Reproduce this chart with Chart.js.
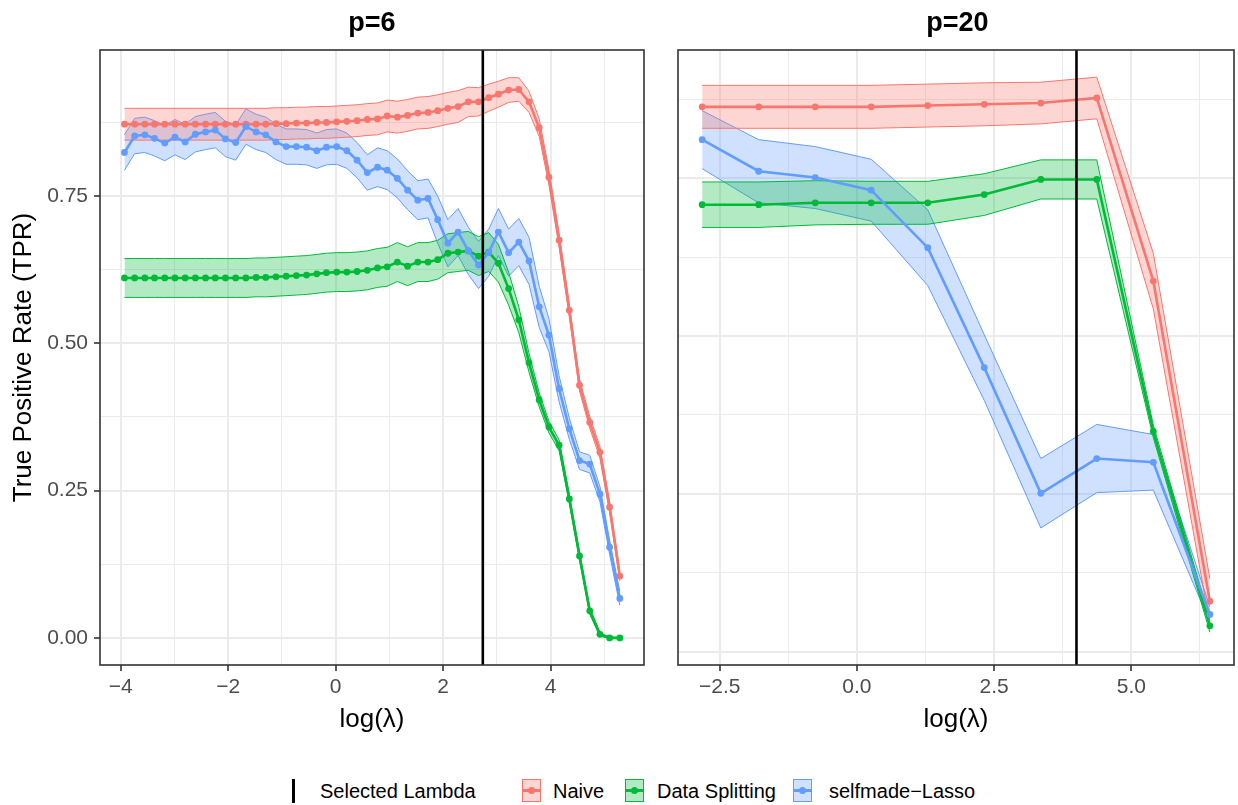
<!DOCTYPE html>
<html>
<head>
<meta charset="utf-8">
<script src="https://cdn.jsdelivr.net/npm/chart.js@4.4.0/dist/chart.umd.min.js"></script>
<style>
    body { margin: 0; background: #fff; width: 1238px; height: 805px; position: relative; overflow: hidden;
           font-family: "Liberation Sans", Arial, sans-serif; }
    canvas { position: absolute; top: 0; }
    .facet { position: absolute; top: 7px; font-weight: bold; font-size: 27px; text-align: center; color: #000; }
    .legend { position: absolute; top: 779px; height: 24px; line-height: 24px; font-size: 20px; color: #000; white-space: nowrap; }
    .key { position: absolute; top: 779px; width: 17px; height: 21px; border: 1.5px solid; }
    .key .ln { position: absolute; left: 0; right: 0; top: 9px; height: 3px; }
    .key .pt { position: absolute; left: 5px; top: 7px; width: 7px; height: 7px; border-radius: 50%; }
</style>
</head>
<body>
<canvas id="chartP6" width="650" height="745" style="left:0"></canvas>
<canvas id="chartP20" width="588" height="745" style="left:650px"></canvas>
<div class="facet" style="left:100px;width:544px">p=6</div>
<div class="facet" style="left:678px;width:559px">p=20</div>
<div id="legend"></div>

<script>
// ---- data: p = 6 ----
const lambdaP6 = [-3.93, -3.74, -3.55, -3.37, -3.18, -2.99, -2.80, -2.61, -2.42, -2.24,
    -2.05, -1.86, -1.67, -1.48, -1.30, -1.11, -0.92, -0.73, -0.54, -0.35,
    -0.17, 0.02, 0.21, 0.40, 0.59, 0.78, 0.96, 1.15, 1.34, 1.53,
    1.72, 1.90, 2.09, 2.28, 2.47, 2.66, 2.85, 3.03, 3.22, 3.41,
    3.60, 3.79, 3.97, 4.16, 4.35, 4.54, 4.73, 4.92, 5.10, 5.29];
const naiveP6 = [0.872, 0.872, 0.872, 0.872, 0.872, 0.872, 0.872, 0.872, 0.872, 0.872,
    0.872, 0.872, 0.872, 0.872, 0.872, 0.873, 0.873, 0.874, 0.874, 0.875,
    0.875, 0.876, 0.877, 0.878, 0.880, 0.881, 0.886, 0.884, 0.887, 0.891,
    0.892, 0.895, 0.899, 0.902, 0.910, 0.910, 0.917, 0.923, 0.930, 0.931,
    0.910, 0.866, 0.782, 0.675, 0.556, 0.429, 0.366, 0.315, 0.222, 0.105];
const naiveP6Se = [0.027, 0.027, 0.027, 0.027, 0.027, 0.027, 0.027, 0.027, 0.027, 0.027,
    0.027, 0.027, 0.027, 0.027, 0.027, 0.027, 0.027, 0.027, 0.027, 0.027,
    0.027, 0.027, 0.027, 0.027, 0.027, 0.027, 0.027, 0.027, 0.027, 0.027,
    0.027, 0.027, 0.027, 0.027, 0.025, 0.024, 0.023, 0.022, 0.021, 0.020,
    0.018, 0.015, 0.013, 0.012, 0.011, 0.010, 0.010, 0.010, 0.009, 0.008];
const splitP6 = [0.611, 0.611, 0.611, 0.611, 0.611, 0.611, 0.611, 0.611, 0.611, 0.611,
    0.611, 0.611, 0.611, 0.612, 0.612, 0.613, 0.614, 0.615, 0.616, 0.618,
    0.620, 0.621, 0.621, 0.622, 0.624, 0.628, 0.630, 0.638, 0.631, 0.638,
    0.638, 0.642, 0.653, 0.655, 0.657, 0.648, 0.655, 0.636, 0.593, 0.540,
    0.467, 0.404, 0.358, 0.327, 0.236, 0.139, 0.046, 0.006, 0.000, 0.000];
const splitP6Se = [0.033, 0.033, 0.033, 0.033, 0.033, 0.033, 0.033, 0.033, 0.033, 0.033,
    0.033, 0.033, 0.033, 0.033, 0.033, 0.033, 0.033, 0.033, 0.033, 0.033,
    0.033, 0.033, 0.033, 0.033, 0.033, 0.033, 0.033, 0.033, 0.033, 0.033,
    0.033, 0.033, 0.033, 0.033, 0.033, 0.033, 0.033, 0.032, 0.028, 0.022,
    0.016, 0.012, 0.010, 0.009, 0.008, 0.007, 0.006, 0.003, 0.001, 0.001];
const lassoP6 = [0.824, 0.852, 0.854, 0.848, 0.840, 0.850, 0.842, 0.855, 0.859, 0.862,
    0.847, 0.841, 0.868, 0.859, 0.854, 0.842, 0.834, 0.834, 0.833, 0.827,
    0.833, 0.834, 0.827, 0.811, 0.790, 0.799, 0.794, 0.780, 0.760, 0.743,
    0.746, 0.710, 0.670, 0.689, 0.657, 0.633, 0.654, 0.689, 0.654, 0.672,
    0.640, 0.562, 0.514, 0.423, 0.355, 0.301, 0.295, 0.244, 0.154, 0.067];
const lassoP6Se = [0.030, 0.030, 0.030, 0.030, 0.030, 0.030, 0.030, 0.030, 0.030, 0.030,
    0.030, 0.030, 0.030, 0.030, 0.030, 0.030, 0.030, 0.030, 0.030, 0.030,
    0.030, 0.030, 0.030, 0.030, 0.030, 0.033, 0.033, 0.033, 0.033, 0.033,
    0.033, 0.040, 0.040, 0.040, 0.040, 0.040, 0.040, 0.040, 0.040, 0.040,
    0.040, 0.035, 0.028, 0.022, 0.018, 0.015, 0.015, 0.013, 0.012, 0.012];
const selectedP6 = 2.74;

// ---- data: p = 20 ----
const lambdaP20 = [-2.82, -1.79, -0.76, 0.26, 1.29, 2.32, 3.35, 4.37, 5.40, 6.43];
const naiveP20 = [0.863, 0.863, 0.863, 0.863, 0.865, 0.867, 0.869, 0.877, 0.587, 0.080];
const naiveP20Se = [0.034, 0.034, 0.034, 0.034, 0.034, 0.034, 0.033, 0.033, 0.044, 0.036];
const splitP20 = [0.708, 0.708, 0.711, 0.711, 0.711, 0.724, 0.748, 0.748, 0.349, 0.041];
const splitP20Se = [0.036, 0.036, 0.035, 0.034, 0.034, 0.033, 0.031, 0.031, 0.010, 0.010];
const lassoP20 = [0.811, 0.761, 0.751, 0.731, 0.640, 0.450, 0.251, 0.306, 0.300, 0.059];
const lassoP20Se = [0.046, 0.050, 0.049, 0.049, 0.060, 0.052, 0.055, 0.054, 0.044, 0.012];
const selectedP20 = 4.0;

// ---- axis ticks ----
const xGridP6 = [-4, -3, -2, -1, 0, 1, 2, 3, 4, 5];
const xLabelsP6 = [-4, -2, 0, 2, 4];
const xGridP20 = [-2.5, -1.25, 0, 1.25, 2.5, 3.75, 5, 6.25];
const xLabelsP20 = [-2.5, 0, 2.5, 5];
const yGrid = [0, 0.125, 0.25, 0.375, 0.5, 0.625, 0.75, 0.875];
const yLabels = [0, 0.25, 0.5, 0.75];

const methodNames = ['Naive', 'Data Splitting', 'selfmade\u2212Lasso'];
const methodColours = ['#F8766D', '#00BA38', '#619CFF'];
const methodFills = ['rgba(248,118,109,0.3)', 'rgba(0,186,56,0.3)', 'rgba(97,156,255,0.3)'];

const FONT = '"Liberation Sans", Arial, sans-serif';

const panelBorder = {
    id: 'panelBorder',
    afterDraw(chart) {
        const { ctx, chartArea: a } = chart;
        ctx.save();
        ctx.strokeStyle = '#333333';
        ctx.lineWidth = 1.6;
        ctx.strokeRect(a.left, a.top, a.right - a.left, a.bottom - a.top);
        ctx.restore();
    }
};

function pts(xs, ys) {
    return xs.map((x, i) => ({ x: x, y: ys[i] }));
}

function buildDatasets(xs, means, ses, selected, yMin, yMax) {
    const sets = [];
    // ribbons first (upper fills down to lower)
    means.forEach((m, k) => {
        sets.push({
            data: pts(xs, m.map((v, i) => v + ses[k][i])),
            borderColor: methodColours[k], borderWidth: 1, pointRadius: 0,
            backgroundColor: methodFills[k], fill: { target: sets.length + 1 },
            order: 20 + k
        });
        sets.push({
            data: pts(xs, m.map((v, i) => v - ses[k][i])),
            borderColor: methodColours[k], borderWidth: 1, pointRadius: 0,
            fill: false, order: 20 + k
        });
    });
    // mean lines with points
    means.forEach((m, k) => {
        sets.push({
            label: methodNames[k],
            data: pts(xs, m),
            borderColor: methodColours[k], borderWidth: 2.6,
            pointRadius: 3.4, pointBorderWidth: 0,
            pointBackgroundColor: methodColours[k],
            fill: false, order: 10 - k
        });
    });
    // selected lambda
    sets.push({
        label: 'Selected Lambda',
        data: [{ x: selected, y: yMin }, { x: selected, y: yMax }],
        borderColor: '#000', borderWidth: 2.6, pointRadius: 0, fill: false, order: 0
    });
    return sets;
}

function fmtX(v, digits) {
    const s = Math.abs(v).toFixed(digits);
    return v < 0 ? '\u2212' + s : s;
}

function makeChart(id, opts) {
    const ctx = document.getElementById(id).getContext('2d');
    return new Chart(ctx, {
        type: 'line',
        data: { datasets: buildDatasets(opts.xs, opts.means, opts.ses, opts.selected, opts.yMin, opts.yMax) },
        options: {
            responsive: false,
            animation: false,
            layout: { padding: { top: 50, right: opts.padRight, left: 0, bottom: 0 } },
            plugins: { legend: { display: false }, tooltip: { enabled: false } },
            elements: { line: { tension: 0 } },
            scales: {
                x: {
                    type: 'linear', min: opts.xMin, max: opts.xMax,
                    afterBuildTicks: s => { s.ticks = opts.xGrid.map(v => ({ value: v })); },
                    afterFit: s => { s.height = 80; },
                    border: { display: false },
                    grid: {
                        color: '#EBEBEB',
                        lineWidth: c => opts.xLabels.includes(c.tick.value) ? 2 : 1,
                        tickColor: c => opts.xLabels.includes(c.tick.value) ? '#333333' : 'rgba(0,0,0,0)',
                        tickLength: 6, tickWidth: 1.6
                    },
                    ticks: {
                        autoSkip: false, maxRotation: 0, padding: 4,
                        color: '#4D4D4D', font: { family: FONT, size: 21 },
                        callback: v => opts.xLabels.includes(v) ? fmtX(v, opts.xDigits) : ''
                    },
                    title: {
                        display: true, text: 'log(\u03bb)', color: '#000',
                        font: { family: FONT, size: 26 }, padding: { top: 0, bottom: 10 }
                    }
                },
                y: {
                    type: 'linear', min: opts.yMin, max: opts.yMax,
                    afterBuildTicks: s => { s.ticks = yGrid.map(v => ({ value: v })); },
                    afterFit: s => { s.width = opts.yWidth; },
                    border: { display: false },
                    grid: {
                        color: '#EBEBEB',
                        lineWidth: c => yLabels.includes(c.tick.value) ? 2 : 1,
                        drawTicks: opts.showY,
                        tickColor: c => yLabels.includes(c.tick.value) ? '#333333' : 'rgba(0,0,0,0)',
                        tickLength: 6, tickWidth: 1.6
                    },
                    ticks: {
                        display: opts.showY, autoSkip: false, padding: 6,
                        color: '#4D4D4D', font: { family: FONT, size: 21 },
                        callback: v => yLabels.includes(v) ? v.toFixed(2) : ''
                    },
                    title: {
                        display: opts.showY, text: 'True Positive Rate (TPR)', color: '#000',
                        font: { family: FONT, size: 26 }, padding: { top: 8, bottom: 0 }
                    }
                }
            }
        },
        plugins: [panelBorder]
    });
}

makeChart('chartP6', {
    xs: lambdaP6,
    means: [naiveP6, splitP6, lassoP6],
    ses: [naiveP6Se, splitP6Se, lassoP6Se],
    selected: selectedP6,
    xMin: -4.385, xMax: 5.74, yMin: -0.046, yMax: 0.998,
    xGrid: xGridP6, xLabels: xLabelsP6, xDigits: 0,
    yWidth: 100, showY: true, padRight: 6
});

makeChart('chartP20', {
    xs: lambdaP20,
    means: [naiveP20, splitP20, lassoP20],
    ses: [naiveP20Se, splitP20Se, lassoP20Se],
    selected: selectedP20,
    xMin: -3.26, xMax: 6.87, yMin: -0.021, yMax: 0.953,
    xGrid: xGridP20, xLabels: xLabelsP20, xDigits: 1,
    yWidth: 28, showY: false, padRight: 1
});

// ---- legend ----
const legend = document.getElementById('legend');
legend.innerHTML = `
    <div style="position:absolute;left:292px;top:779px;width:2.6px;height:24px;background:#000"></div>
    <div class="legend" style="left:320px">Selected Lambda</div>`;
const keyLeft = [522, 625, 793];
const textLeft = [553, 657, 829];
methodNames.forEach((name, k) => {
    legend.innerHTML += `
    <div class="key" style="left:${keyLeft[k]}px;border-color:${methodColours[k]};background:${methodFills[k]}">
        <div class="ln" style="background:${methodColours[k]}"></div>
        <div class="pt" style="background:${methodColours[k]}"></div>
    </div>
    <div class="legend" style="left:${textLeft[k]}px">${name}</div>`;
});
</script>
</body>
</html>
